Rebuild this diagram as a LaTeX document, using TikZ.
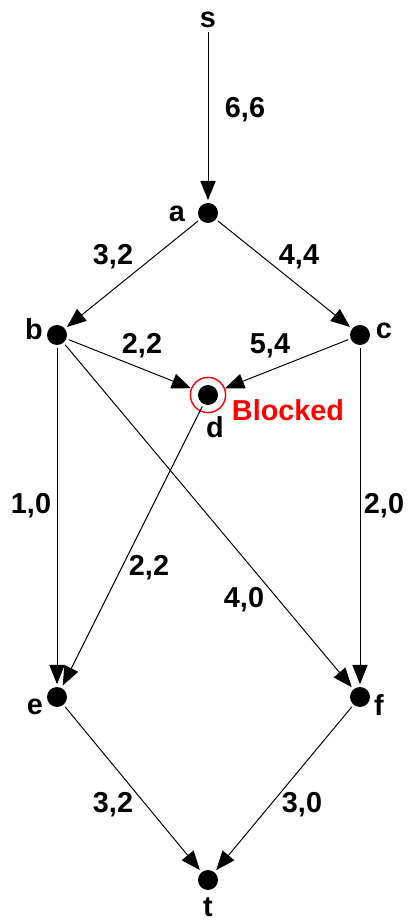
\documentclass[tikz,border=0pt]{standalone}
\usepackage{fontspec}
\setmainfont{Liberation Sans}
\usepackage{tikz}
\usetikzlibrary{arrows.meta}

\begin{document}
\begin{tikzpicture}[
  vtx/.style={circle, fill=black, minimum size=0.5cm, inner sep=0pt, outer sep=0.07cm},
  ring/.style={circle, draw=red, line width=1pt, minimum size=0.88cm, inner sep=0pt},
  lbl/.style={font=\fontsize{20.5}{24}\selectfont\bfseries, inner sep=1pt},
  wt/.style={lbl},
  flow/.style={-{Triangle[length=0.48cm, width=0.38cm]}, line width=0.7pt}
]
\useasboundingbox (0,0) rectangle (10.3,23.05);

% --- vertices ---
\node[lbl, inner sep=3pt] (s) at (5.2,22.55) {s};
\node[vtx] (a) at (5.2,17.725) {};
\node[vtx] (b) at (1.425,14.675) {};
\node[vtx] (c) at (9.0,14.675) {};
\node[vtx] (d) at (5.2,13.175) {};
\node[ring] (dr) at (5.2,13.175) {};
\node[vtx] (e) at (1.425,5.625) {};
\node[vtx] (f) at (9.0,5.625) {};
\node[vtx] (t) at (5.2,1.05) {};

% vertex names
\node[lbl] (a_l) at (4.425,17.7) {a};
\node[lbl] (b_l) at (0.85,14.825) {b};
\node[lbl] (c_l) at (9.6,14.775) {c};
\node[lbl] (d_l) at (5.375,12.375) {d};
\node[lbl] (e_l) at (0.875,5.375) {e};
\node[lbl] (f_l) at (9.475,5.425) {f};
\node[lbl] (t_l) at (5.2,0.38) {t};
\node[lbl, text=red] (blk) at (7.2,12.8) {Blocked};

% --- edges ---
\draw[flow] (s) -- (a);
\draw[flow] (a) -- (b);
\draw[flow] (a) -- (c);
\draw[flow] (b) -- (dr);
\draw[flow] (c) -- (dr);
\draw[flow] (b) -- (e);
\draw[flow] (b) -- (f);
\draw[flow] (c) -- (f);
\draw[flow] (d) -- (e);
\draw[flow] (e) -- (t);
\draw[flow] (f) -- (t);

% capacity, flow
\node[wt] (w_sa) at (6.125,20.3) {6,6};
\node[wt] (w_ab) at (2.825,16.625) {3,2};
\node[wt] (w_ac) at (7.475,16.625) {4,4};
\node[wt] (w_bd) at (3.55,14.4) {2,2};
\node[wt] (w_cd) at (6.75,14.4) {5,4};
\node[wt] (w_be) at (0.775,10.4) {1,0};
\node[wt] (w_cf) at (9.6,10.4) {2,0};
\node[wt] (w_de) at (3.725,8.85) {2,2};
\node[wt] (w_bf) at (6.1,8.05) {4,0};
\node[wt] (w_et) at (2.825,2.925) {3,2};
\node[wt] (w_ft) at (7.55,2.925) {3,0};
\end{tikzpicture}
\end{document}
